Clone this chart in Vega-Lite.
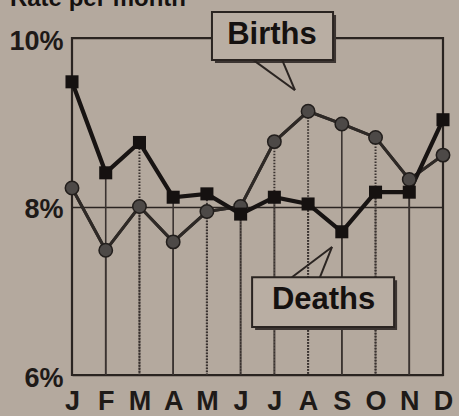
{
  "$schema": "https://vega.github.io/schema/vega-lite/v6.json",
  "autosize": "none",
  "width": 371,
  "height": 337,
  "padding": {"left": 72, "top": 38, "right": 16, "bottom": 41},
  "background": "#b4a99e",
  "config": {
    "view": {"stroke": "#2a2421", "strokeWidth": 2.2},
    "font": "Liberation Sans"
  },
  "data": {
    "values": [
      {"m": 1, "births": 8.22, "deaths": 9.48},
      {"m": 2, "births": 7.48, "deaths": 8.40},
      {"m": 3, "births": 8.00, "deaths": 8.76},
      {"m": 4, "births": 7.58, "deaths": 8.11},
      {"m": 5, "births": 7.94, "deaths": 8.15},
      {"m": 6, "births": 8.00, "deaths": 7.91},
      {"m": 7, "births": 8.77, "deaths": 8.11},
      {"m": 8, "births": 9.13, "deaths": 8.03},
      {"m": 9, "births": 8.98, "deaths": 7.70},
      {"m": 10, "births": 8.82, "deaths": 8.17},
      {"m": 11, "births": 8.32, "deaths": 8.17},
      {"m": 12, "births": 8.61, "deaths": 9.03}
    ]
  },
  "encoding": {
    "x": {
      "field": "m", "type": "quantitative",
      "scale": {"domain": [1, 12], "nice": false, "zero": false},
      "axis": {
        "values": [1,2,3,4,5,6,7,8,9,10,11,12],
        "labelExpr": "['J','F','M','A','M','J','J','A','S','O','N','D'][datum.value-1]",
        "domain": false, "ticks": false, "grid": false, "title": null,
        "labelFont": "Liberation Sans", "labelFontWeight": "bold", "labelFontSize": 27,
        "labelColor": "#1e1a18", "labelPadding": 13, "labelBaseline": "top",
        "labelFlush": false, "labelOverlap": false
      }
    }
  },
  "layer": [
    {
      "mark": {"type": "line", "color": "#2e2926", "strokeWidth": 3},
      "encoding": {"y": {"field": "births", "type": "quantitative", "scale": {"domain": [6, 10], "nice": false, "zero": false}, "axis": {"values": [6, 8, 10], "labelExpr": "datum.value + '%'", "domain": false, "ticks": false, "grid": true, "gridColor": "#2a2421", "gridWidth": 1.4, "title": null, "labelFont": "Liberation Sans", "labelFontWeight": "bold", "labelFontSize": 27, "labelColor": "#1e1a18", "labelPadding": 9, "labelOffset": 3, "labelBaseline": "middle", "labelFlush": false}}}
    },
    {
      "transform": [{"filter": "indexof([2,4,9,11], datum.m) >= 0"}],
      "mark": {"type": "rule", "color": "#3a3330", "strokeWidth": 1.6},
      "encoding": {"y": {"field": "deaths", "type": "quantitative"}, "y2": {"datum": 6}}
    },
    {
      "transform": [{"filter": "indexof([2,4,9,11], datum.m) >= 0"}],
      "mark": {"type": "rule", "color": "#3a3330", "strokeWidth": 1.6},
      "encoding": {"y": {"field": "births", "type": "quantitative"}, "y2": {"datum": 6}}
    },
    {
      "transform": [{"filter": "indexof([3,5,6,7,8,10], datum.m) >= 0"}],
      "mark": {"type": "rule", "color": "#3a3330", "strokeWidth": 2, "strokeDash": [1.5, 1.5]},
      "encoding": {"y": {"field": "deaths", "type": "quantitative"}, "y2": {"datum": 6}}
    },
    {
      "transform": [{"filter": "indexof([3,5,6,7,8,10], datum.m) >= 0"}],
      "mark": {"type": "rule", "color": "#3a3330", "strokeWidth": 2, "strokeDash": [1.5, 1.5]},
      "encoding": {"y": {"field": "births", "type": "quantitative"}, "y2": {"datum": 6}}
    },
    {
      "mark": {"type": "line", "color": "#2e2926", "strokeWidth": 3},
      "encoding": {"y": {"field": "births", "type": "quantitative"}}
    },
    {
      "mark": {"type": "line", "color": "#171312", "strokeWidth": 4.2},
      "encoding": {"y": {"field": "deaths", "type": "quantitative"}}
    },
    {
      "mark": {"type": "point", "shape": "circle", "filled": true, "fill": "#4d4947", "stroke": "#221e1c", "strokeWidth": 1.5, "size": 180, "opacity": 1},
      "encoding": {"y": {"field": "births", "type": "quantitative"}}
    },
    {
      "mark": {"type": "point", "shape": "square", "filled": true, "fill": "#151110", "size": 170, "opacity": 1},
      "encoding": {"y": {"field": "deaths", "type": "quantitative"}}
    },
    {
      "transform": [{"filter": "datum.m == 1"}],
      "layer": [
        {
          "mark": {"type": "rect", "fill": "#3c3532", "xOffset": 3, "yOffset": 3, "x2Offset": 3, "y2Offset": 3},
          "encoding": {"x": {"datum": 5.15, "type": "quantitative"}, "x2": {"datum": 8.74}, "y": {"datum": 10.31, "type": "quantitative"}, "y2": {"datum": 9.74}}
        },
        {
          "mark": {"type": "rect", "fill": "#b9aea3", "stroke": "#2a2421", "strokeWidth": 2},
          "encoding": {"x": {"datum": 5.15, "type": "quantitative"}, "x2": {"datum": 8.74}, "y": {"datum": 10.31, "type": "quantitative"}, "y2": {"datum": 9.74}}
        },
        {
          "mark": {"type": "text", "text": "Births", "font": "Liberation Sans", "fontWeight": "bold", "fontSize": 31, "color": "#151110", "align": "center", "baseline": "middle"},
          "encoding": {"x": {"datum": 6.93, "type": "quantitative"}, "y": {"datum": 10.03, "type": "quantitative"}}
        },
        {
          "mark": {"type": "rule", "color": "#2a2421", "strokeWidth": 2},
          "encoding": {"x": {"datum": 6.37, "type": "quantitative"}, "y": {"datum": 9.74, "type": "quantitative"}, "x2": {"datum": 7.61}, "y2": {"datum": 9.38}}
        },
        {
          "mark": {"type": "rule", "color": "#2a2421", "strokeWidth": 2},
          "encoding": {"x": {"datum": 7.23, "type": "quantitative"}, "y": {"datum": 9.74, "type": "quantitative"}, "x2": {"datum": 7.61}, "y2": {"datum": 9.38}}
        },
        {
          "mark": {"type": "rect", "fill": "#3c3532", "xOffset": 3, "yOffset": 3, "x2Offset": 3, "y2Offset": 3},
          "encoding": {"x": {"datum": 6.34, "type": "quantitative"}, "x2": {"datum": 10.55}, "y": {"datum": 7.16, "type": "quantitative"}, "y2": {"datum": 6.57}}
        },
        {
          "mark": {"type": "rect", "fill": "#b9aea3", "stroke": "#2a2421", "strokeWidth": 2},
          "encoding": {"x": {"datum": 6.34, "type": "quantitative"}, "x2": {"datum": 10.55}, "y": {"datum": 7.16, "type": "quantitative"}, "y2": {"datum": 6.57}}
        },
        {
          "mark": {"type": "text", "text": "Deaths", "font": "Liberation Sans", "fontWeight": "bold", "fontSize": 31, "color": "#151110", "align": "center", "baseline": "middle"},
          "encoding": {"x": {"datum": 8.46, "type": "quantitative"}, "y": {"datum": 6.89, "type": "quantitative"}}
        },
        {
          "mark": {"type": "rule", "color": "#2a2421", "strokeWidth": 2},
          "encoding": {"x": {"datum": 7.52, "type": "quantitative"}, "y": {"datum": 7.16, "type": "quantitative"}, "x2": {"datum": 8.71}, "y2": {"datum": 7.52}}
        },
        {
          "mark": {"type": "rule", "color": "#2a2421", "strokeWidth": 2},
          "encoding": {"x": {"datum": 8.35, "type": "quantitative"}, "y": {"datum": 7.16, "type": "quantitative"}, "x2": {"datum": 8.71}, "y2": {"datum": 7.52}}
        },
        {
          "mark": {"type": "text", "text": "Rate per month", "font": "Liberation Sans", "fontWeight": "bold", "fontSize": 24, "color": "#151110", "align": "left", "baseline": "alphabetic"},
          "encoding": {"x": {"datum": -0.84, "type": "quantitative"}, "y": {"datum": 10.38, "type": "quantitative"}}
        }
      ]
    }
  ]
}
